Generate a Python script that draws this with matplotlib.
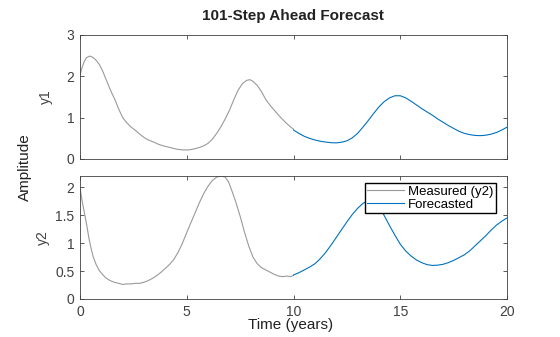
import matplotlib
matplotlib.use('Agg')
import matplotlib.pyplot as plt

plt.rcParams['font.family'] = ['Liberation Sans', 'DejaVu Sans']

# Измеренные данные (0..10 лет) и прогноз (10..20 лет)
t_meas1 = [0.0, 0.1, 0.2, 0.3, 0.45, 0.6, 0.75, 0.9, 1.05, 1.2, 1.35, 1.5, 1.65, 1.8, 2.0,
           2.2, 2.4, 2.6, 2.8, 3.0, 3.2, 3.45, 3.7, 3.95, 4.2, 4.5, 4.8, 5.1, 5.4, 5.6,
           5.8, 6.0, 6.2, 6.4, 6.6, 6.8, 7.0, 7.2, 7.4, 7.6, 7.8, 7.95, 8.1, 8.3, 8.5,
           8.7, 8.9, 9.1, 9.3, 9.5, 9.7, 9.85, 10.0]
y1_meas = [2.03, 2.22, 2.36, 2.45, 2.49, 2.46, 2.39, 2.29, 2.14, 1.95, 1.76, 1.58, 1.42, 1.22, 1.00,
           0.87, 0.77, 0.69, 0.60, 0.52, 0.46, 0.41, 0.35, 0.31, 0.28, 0.24, 0.22, 0.22, 0.25, 0.28,
           0.32, 0.38, 0.48, 0.62, 0.78, 0.97, 1.18, 1.43, 1.66, 1.82, 1.90, 1.92, 1.88, 1.78, 1.63,
           1.44, 1.30, 1.18, 1.06, 0.95, 0.85, 0.78, 0.72]

t_fc1 = [10.0, 10.25, 10.5, 10.75, 11.0, 11.25, 11.5, 11.75, 12.0, 12.25, 12.5, 12.75, 13.0,
         13.25, 13.5, 13.75, 14.0, 14.25, 14.5, 14.75, 15.0, 15.25, 15.5, 15.75, 16.0, 16.25,
         16.5, 16.75, 17.0, 17.25, 17.5, 17.75, 18.0, 18.25, 18.5, 18.75, 19.0, 19.25, 19.5,
         19.75, 20.0]
y1_fc = [0.70, 0.62, 0.55, 0.50, 0.46, 0.43, 0.41, 0.395, 0.39, 0.405, 0.44, 0.51, 0.62,
         0.77, 0.93, 1.10, 1.26, 1.39, 1.48, 1.53, 1.53, 1.48, 1.40, 1.31, 1.22, 1.14,
         1.06, 0.97, 0.89, 0.81, 0.74, 0.67, 0.62, 0.59, 0.57, 0.565, 0.575, 0.60, 0.64,
         0.70, 0.77]

t_meas2 = [0.0, 0.1, 0.2, 0.31, 0.42, 0.52, 0.62, 0.75, 0.9, 1.05, 1.2, 1.4, 1.6, 1.8, 2.0,
           2.2, 2.4, 2.6, 2.8, 3.0, 3.2, 3.4, 3.6, 3.8, 4.0, 4.2, 4.4, 4.6, 4.8, 5.0,
           5.2, 5.4, 5.6, 5.8, 6.0, 6.2, 6.4, 6.6, 6.8, 6.95, 7.1, 7.3, 7.5, 7.7, 7.9,
           8.1, 8.3, 8.5, 8.7, 8.9, 9.1, 9.3, 9.5, 9.7, 9.85, 10.0]
y2_meas = [1.98, 1.75, 1.55, 1.33, 1.08, 0.90, 0.75, 0.62, 0.51, 0.44, 0.38, 0.33, 0.30, 0.28, 0.26,
           0.27, 0.27, 0.28, 0.28, 0.30, 0.33, 0.37, 0.42, 0.48, 0.55, 0.62, 0.71, 0.84, 1.00, 1.19,
           1.37, 1.55, 1.73, 1.89, 2.02, 2.12, 2.18, 2.20, 2.18, 2.10, 1.95, 1.73, 1.48, 1.20, 0.95,
           0.75, 0.63, 0.56, 0.52, 0.48, 0.44, 0.41, 0.40, 0.41, 0.40, 0.42]

t_fc2 = [10.0, 10.25, 10.5, 10.75, 11.0, 11.25, 11.5, 11.75, 12.0, 12.25, 12.5, 12.75, 13.0,
         13.25, 13.5, 13.75, 14.0, 14.25, 14.5, 14.75, 15.0, 15.25, 15.5, 15.75, 16.0, 16.25,
         16.5, 16.75, 17.0, 17.25, 17.5, 17.75, 18.0, 18.25, 18.5, 18.75, 19.0, 19.25, 19.5,
         19.75, 20.0]
y2_fc = [0.43, 0.47, 0.52, 0.57, 0.63, 0.72, 0.83, 0.96, 1.10, 1.24, 1.38, 1.51, 1.62,
         1.71, 1.76, 1.74, 1.65, 1.49, 1.31, 1.14, 0.98, 0.86, 0.77, 0.70, 0.65, 0.615,
         0.60, 0.605, 0.62, 0.65, 0.69, 0.74, 0.79, 0.86, 0.95, 1.04, 1.13, 1.23, 1.32,
         1.39, 1.45]

gray = '#9a9a9a'
blue = '#0072BD'
axcol = '#404040'

fig = plt.figure(figsize=(5.6, 3.37), dpi=100)
ax1 = fig.add_axes([0.1429, 0.5282, 0.7625, 0.368])
ax2 = fig.add_axes([0.1429, 0.1128, 0.7625, 0.365])

ax1.plot(t_meas1, y1_meas, color=gray, lw=0.8)
ax1.plot(t_fc1, y1_fc, color=blue, lw=0.8)
ax2.plot(t_meas2, y2_meas, color=gray, lw=0.8, label='Measured (y2)')
ax2.plot(t_fc2, y2_fc, color=blue, lw=0.8, label='Forecasted')

ax1.set_ylim(0, 3)
ax1.set_yticks([0, 1, 2, 3])
ax2.set_ylim(0, 2.2)
ax2.set_yticks([0, 0.5, 1, 1.5, 2])
ax2.set_yticklabels(['0', '0.5', '1', '1.5', '2'])

for ax in (ax1, ax2):
    ax.set_xlim(0, 20)
    ax.set_xticks([0, 5, 10, 15, 20])
    ax.tick_params(direction='in', top=True, right=True, length=3, width=0.6,
                   colors=axcol, labelsize=10, pad=4)
    for s in ax.spines.values():
        s.set_color(axcol)
        s.set_linewidth(0.6)
ax1.tick_params(labelbottom=False)

ax1.set_ylabel('y1', fontsize=10, color=axcol, labelpad=10)
ax2.set_ylabel('y2', fontsize=10, color=axcol, labelpad=4)

ax2.legend(loc='upper right', bbox_to_anchor=(0.975, 0.945), borderaxespad=0,
           fancybox=False, edgecolor='black', framealpha=1, fontsize=9.5,
           handlelength=2.8, borderpad=0.2, labelspacing=0.05, handletextpad=0.3)

fig.text(0.523, 0.953, '101-Step Ahead Forecast', ha='center', va='center',
         fontsize=11, fontweight='bold', color='#222222')
fig.text(0.045, 0.505, 'Amplitude', rotation=90, ha='center', va='center',
         fontsize=11, color='#222222')
fig.text(0.518, 0.036, 'Time (years)', ha='center', va='center',
         fontsize=11, color='#222222')

fig.savefig('out.png', dpi=100)
